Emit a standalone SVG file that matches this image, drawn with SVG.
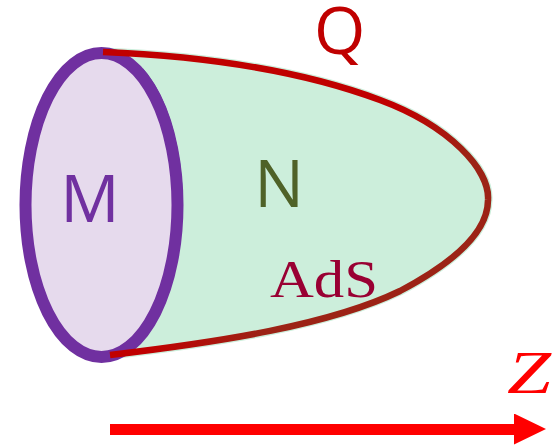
<svg xmlns="http://www.w3.org/2000/svg" width="558" height="447" viewBox="0 0 558 447">
  <style>
    .sans { font-family: "Open Sans", "DejaVu Sans", sans-serif; }
    .serif { font-family: "Liberation Serif", "Times New Roman", serif; }
  </style>
  <defs>
    <linearGradient id="gUp" gradientUnits="userSpaceOnUse" x1="400" y1="0" x2="470" y2="0">
      <stop offset="0" stop-color="#C00000"/>
      <stop offset="1" stop-color="#9C2316"/>
    </linearGradient>
    <linearGradient id="gLow" gradientUnits="userSpaceOnUse" x1="150" y1="0" x2="260" y2="0">
      <stop offset="0" stop-color="#C00000"/>
      <stop offset="1" stop-color="#9C2316"/>
    </linearGradient>
    <marker id="arrowHead" markerUnits="userSpaceOnUse" markerWidth="34" markerHeight="32" refX="0" refY="16" orient="auto">
      <polygon points="0,0 32,15.5 0,31" fill="#FF0000"/>
    </marker>
  </defs>

  <g id="bulk-N">
    <path d="M103,52 C200,56 300,70 380,100 C450,126 490,170 488,200 C488,232 455,262 400,291 C330,325 220,342 110,355 A75,152 0 0 0 102,53 Z" fill="#CCEEDB" stroke="#CCEEDB" stroke-width="9" stroke-linejoin="round"/>
    <text class="sans" x="279" y="206.5" font-size="66" fill="#4F6228" text-anchor="middle">N</text>
  </g>

  <g id="boundary-M">
    <path d="M141.5,69.9 A79,156 0 0 1 181,205" fill="none" stroke="#5A4F9C" stroke-width="4"/>
    <ellipse cx="101.5" cy="205" rx="76" ry="152" fill="#E6DAED" stroke="#7030A0" stroke-width="12"/>
    <text class="sans" x="90" y="222" font-size="66" fill="#7030A0" text-anchor="middle">M</text>
  </g>

  <g id="brane-Q">
    <path d="M103,52 C200,56 300,70 380,100 C450,126 490,170 488,200" fill="none" stroke="url(#gUp)" stroke-width="6.5"/>
    <path d="M488,200 C488,232 455,262 400,291 C330,325 220,342 110,355" fill="none" stroke="url(#gLow)" stroke-width="6.5"/>
    <text class="sans" x="314" y="54" font-size="66" fill="#C00000">Q</text>
  </g>

  <g id="label-AdS">
    <text class="serif" x="270" y="297" font-size="52" fill="#990033" textLength="108" lengthAdjust="spacingAndGlyphs">AdS</text>
  </g>

  <g id="connectors">
    <line x1="110" y1="429.5" x2="514" y2="429.5" stroke="#FF0000" stroke-width="11" marker-end="url(#arrowHead)"/>
    <text class="serif" x="507" y="393" font-size="62" font-style="italic" fill="#FF0000" textLength="44" lengthAdjust="spacingAndGlyphs">Z</text>
  </g>
</svg>
